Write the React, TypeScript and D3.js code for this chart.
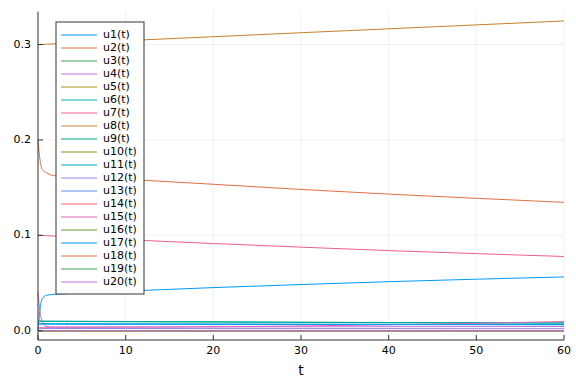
import React from "react";
import * as d3 from "d3";

const tVals = [0, 0.2, 0.5, 1, 1.5, 2, 3, 5, 10, 20, 30, 40, 50, 60];

const u1 = [0, 0.02, 0.034, 0.0372, 0.0378, 0.0383, 0.0387, 0.0395, 0.0415, 0.0452, 0.0484, 0.0514, 0.054, 0.0564];
const u2 = [0.2, 0.181, 0.169, 0.1655, 0.1632, 0.1624, 0.162, 0.1612, 0.1588, 0.1535, 0.1481, 0.1432, 0.1388, 0.1346];
const u3 = [0, 0, 0, 0, 0, 0, 0, 0, 0, 0, 0, 0, 0, 0];
const u4 = [0.04, 0.022, 0.009, 0.0045, 0.004, 0.0039, 0.0039, 0.0039, 0.0039, 0.004, 0.0041, 0.0042, 0.0043, 0.0044];
const u5 = [0, 0, 0, 0, 0, 0, 0, 0, 0, 0, 0, 0, 0, 0];
const u6 = [0.0102, 0.0102, 0.0101, 0.0101, 0.0101, 0.01, 0.01, 0.0099, 0.0097, 0.0093, 0.0089, 0.0086, 0.0083, 0.008];
const u7 = [0.1, 0.0999, 0.0998, 0.0996, 0.0994, 0.0992, 0.0988, 0.0979, 0.0955, 0.0914, 0.0876, 0.084, 0.0808, 0.0778];
const u8 = [0.3, 0.3001, 0.3002, 0.3004, 0.3006, 0.3008, 0.3012, 0.3021, 0.3041, 0.3082, 0.3124, 0.3165, 0.3206, 0.3247];
const u9 = [0.0098, 0.0098, 0.0098, 0.0097, 0.0097, 0.0097, 0.0097, 0.0096, 0.0094, 0.0091, 0.0088, 0.0085, 0.0083, 0.0081];
const u10 = [0, 0, 0, 0, 0, 0, 0, 0, 0, 0, 0, 0, 0, 0];
const u11 = [0.0075, 0.0075, 0.0075, 0.0075, 0.0074, 0.0074, 0.0074, 0.0074, 0.0073, 0.0071, 0.0069, 0.0068, 0.0066, 0.0065];
const u12 = [0.0023, 0.0023, 0.0023, 0.0023, 0.0023, 0.0023, 0.0023, 0.0023, 0.0023, 0.0022, 0.0022, 0.0022, 0.0021, 0.0021];
const u13 = [0, 0, 0, 0, 0, 0, 0, 0, 0, 0, 0, 0, 0, 0];
const u14 = [0, 0, 0, 0, 0, 0, 0, 0, 0, 0, 0, 0, 0, 0];
const u15 = [0.0035, 0.0035, 0.0035, 0.0035, 0.0035, 0.0035, 0.0035, 0.0036, 0.0037, 0.0041, 0.005, 0.0062, 0.0077, 0.0096];
const u16 = [0, 0, 0, 0, 0, 0, 0, 0, 0, 0, 0, 0, 0, 0];
const u17 = [0.0068, 0.0068, 0.0068, 0.0068, 0.0068, 0.0068, 0.0068, 0.0067, 0.0067, 0.0066, 0.0065, 0.0064, 0.0063, 0.0062];
const u18 = [0, 0, 0, 0, 0, 0, 0, 0, 0, 0, 0, 0, 0, 0];
const u19 = [0, 0, 0, 0, 0, 0, 0, 0, 0, 0, 0, 0, 0, 0];
const u20 = [0, 0, 0, 0, 0, 0, 0, 0, 0, 0, 0, 0, 0, 0];

const seriesValues = [u1, u2, u3, u4, u5, u6, u7, u8, u9, u10, u11, u12, u13, u14, u15, u16, u17, u18, u19, u20];
const seriesNames = seriesValues.map((_, i) => `u${i + 1}(t)`);

const palette = [
  "#009AFA", "#E36F47", "#3EA44E", "#C371D2", "#AC8E18", "#00AAAE", "#ED5E93", "#C68225",
  "#00A98D", "#8E971E", "#00A9CB", "#9B7FE9", "#618DF6", "#F06073", "#DD64B6", "#6C9E33",
];

const xTicks = [0, 10, 20, 30, 40, 50, 60];
const yTicks = [0, 0.1, 0.2, 0.3];
const yTickLabels = ["0.0", "0.1", "0.2", "0.3"];
const xLabel = "t";

const W = 576;
const H = 384;
const left = 38;
const right = 564;
const top = 11.7;
const bottom = 340;
const font = "'DejaVu Sans', sans-serif";

export default function App() {
  const x = d3.scaleLinear().domain([0, 60]).range([left, right]);
  const yMin = 0;
  const yMax = 0.3247;
  const pad = (yMax - yMin) * 0.03;
  const y = d3.scaleLinear().domain([yMin - pad, yMax + pad]).range([bottom, top]);

  const line = d3
    .line<[number, number]>()
    .x((d) => x(d[0]))
    .y((d) => y(d[1]))
    .curve(d3.curveMonotoneX);

  const legX = 56;
  const legY = 22;
  const legW = 88;
  const legRow = 13;
  const legH = 272;

  return (
    <div style={{ position: "absolute", left: 0, top: 0 }}>
      <svg width={W} height={H} style={{ display: "block", background: "#fff" }}>
        <rect x={0} y={0} width={W} height={H} fill="#fff" />
        {/* grid */}
        {xTicks.map((t) => (
          <line key={"gx" + t} x1={x(t)} x2={x(t)} y1={top} y2={bottom} stroke="#000" strokeOpacity={0.1} strokeWidth={0.6} />
        ))}
        {yTicks.map((t) => (
          <line key={"gy" + t} x1={left} x2={right} y1={y(t)} y2={y(t)} stroke="#000" strokeOpacity={0.1} strokeWidth={0.6} />
        ))}
        {/* series */}
        {seriesValues.map((vals, i) => (
          <path
            key={"s" + i}
            d={line(tVals.map((t, j) => [t, vals[j]] as [number, number])) || ""}
            fill="none"
            stroke={palette[i % palette.length]}
            strokeWidth={1}
          />
        ))}
        {/* axes */}
        <line x1={left} x2={left} y1={top} y2={bottom} stroke="#333" strokeWidth={1} />
        <line x1={left} x2={right} y1={bottom} y2={bottom} stroke="#333" strokeWidth={1} />
        {xTicks.map((t) => (
          <g key={"xt" + t}>
            <line x1={x(t)} x2={x(t)} y1={bottom} y2={bottom - 5} stroke="#333" strokeWidth={1} />
            <text x={x(t)} y={351} fontSize={11} fontFamily={font} textAnchor="middle" dominantBaseline="middle" fill="#000">
              {t}
            </text>
          </g>
        ))}
        {yTicks.map((t, i) => (
          <g key={"yt" + t}>
            <line x1={left} x2={left + 5} y1={y(t)} y2={y(t)} stroke="#333" strokeWidth={1} />
            <text x={31} y={y(t)} fontSize={11} fontFamily={font} textAnchor="end" dominantBaseline="middle" fill="#000">
              {yTickLabels[i]}
            </text>
          </g>
        ))}
        <text x={(left + right) / 2} y={371} fontSize={14} fontFamily={font} textAnchor="middle" dominantBaseline="middle" fill="#000">
          {xLabel}
        </text>
        {/* legend */}
        <rect x={legX} y={legY} width={legW} height={legH} fill="#fff" stroke="#333" strokeWidth={1} />
        {seriesNames.map((name, i) => {
          const ly = 35 + legRow * i;
          return (
            <g key={"lg" + i}>
              <line x1={61} x2={97} y1={ly} y2={ly} stroke={palette[i % palette.length]} strokeWidth={1} />
              <text x={103} y={ly} fontSize={11} fontFamily={font} dominantBaseline="middle" fill="#000">
                {name}
              </text>
            </g>
          );
        })}
      </svg>
    </div>
  );
}
